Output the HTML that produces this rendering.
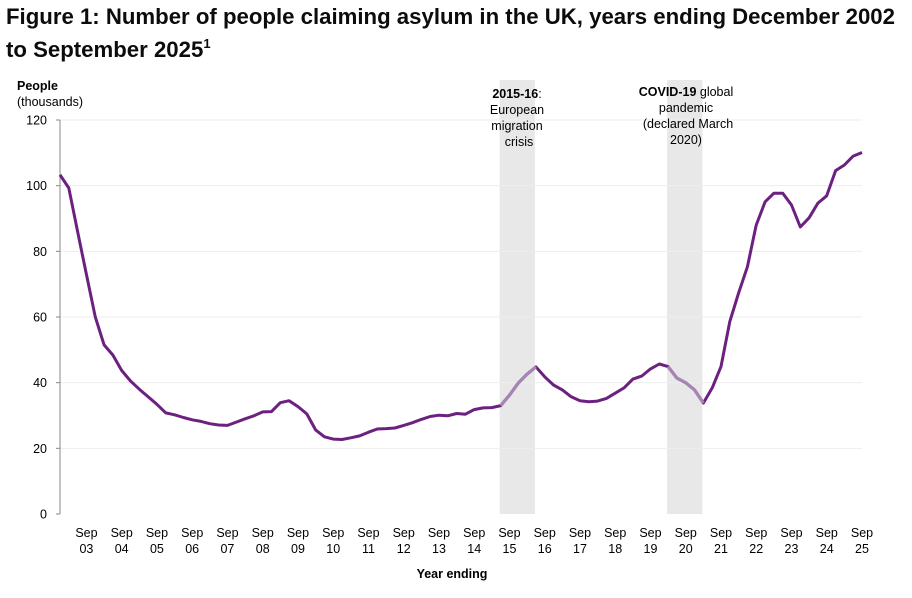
<!DOCTYPE html>
<html><head><meta charset="utf-8"><style>
body{margin:0;width:912px;height:598px;background:#fff;font-family:"Liberation Sans",sans-serif;overflow:hidden}
svg{position:absolute;left:0;top:0}
</style></head><body>
<svg width="912" height="598">
<text x="6" y="24" font-size="22.2" font-weight="bold" fill="#0b0c0c">Figure 1: Number of people claiming asylum in the UK, years ending December 2002</text>
<text x="6" y="57" font-size="22.2" font-weight="bold" fill="#0b0c0c">to September 2025<tspan font-size="13" dy="-9">1</tspan></text>
<text x="17" y="90" font-size="12.5" font-weight="bold" fill="#000">People</text>
<text x="17" y="106" font-size="12.5" fill="#000">(thousands)</text>
<g id="bands"></g><g id="grid"></g><g id="axes"></g><g id="line"></g>
<text x="452" y="578" font-size="12.5" font-weight="bold" text-anchor="middle" fill="#000">Year ending</text>
<g font-size="12.5" text-anchor="middle" fill="#000">
<text x="517" y="98"><tspan font-weight="bold">2015-16</tspan>:</text>
<text x="517" y="114">European</text><text x="517" y="130">migration</text><text x="519" y="146">crisis</text></g>
<g font-size="12.5" text-anchor="middle" fill="#000">
<text x="686" y="96"><tspan font-weight="bold">COVID-19</tspan> global</text>
<text x="686" y="112">pandemic</text><text x="688" y="128">(declared March</text><text x="686" y="144">2020)</text></g>
</svg>
<script>
const values=[103.3,99.3,86,73,60,51.5,48.4,43.7,40.5,38,35.7,33.4,30.8,30.2,29.4,28.7,28.2,27.5,27.1,27,28,29,29.9,31.1,31.2,33.9,34.5,32.7,30.5,25.6,23.5,22.8,22.7,23.2,23.8,24.9,25.9,26,26.2,27,27.8,28.8,29.7,30.1,29.9,30.6,30.4,31.8,32.3,32.4,33,36.2,39.9,42.6,44.8,41.8,39.3,37.8,35.7,34.5,34.2,34.4,35.2,36.8,38.4,41.1,42,44.2,45.7,44.9,41.4,40,37.8,33.8,38.4,44.9,58.6,67.3,75.3,88,95.1,97.7,97.7,94.1,87.4,90.2,94.7,96.9,104.6,106.3,109,110.1];
const yTicks=[0,20,40,60,80,100,120];
const xLabelYears=["03","04","05","06","07","08","09","10","11","12","13","14","15","16","17","18","19","20","21","22","23","24","25"];
const bands=[[50,54],[69,73]];
const NS="http://www.w3.org/2000/svg";
const x0=60,x1=862,yTop=120,yBot=514;
const xs=i=>x0+i*(x1-x0)/(values.length-1);
const ys=v=>yBot-v/120*(yBot-yTop);
function mk(t,a,p){const e=document.createElementNS(NS,t);for(const k in a)e.setAttribute(k,a[k]);p.appendChild(e);return e;}
const gB=document.getElementById('bands'),gG=document.getElementById('grid'),gA=document.getElementById('axes'),gL=document.getElementById('line');
bands.forEach(b=>{const r=mk('rect',{x:xs(b[0])-1,y:yTop-40,width:xs(b[1])-xs(b[0]),height:yBot-yTop+40,fill:'#e8e8e8'},gB);

});
yTicks.forEach(t=>{const y=ys(t);
if(t>0){const l=mk('line',{x1:x0,x2:x1,y1:y,y2:y,stroke:'#eeeeee','stroke-width':1},gG);

}
mk('line',{x1:x0-4,x2:x0,y1:y,y2:y,stroke:'#888'},gA);
const tx=mk('text',{x:x0-13,y:y+4.5,'font-size':12.5,'text-anchor':'end',fill:'#000'},gA);tx.textContent=t;

});
mk('line',{x1:x0,x2:x0,y1:yTop,y2:yBot,stroke:'#888'},gA);
xLabelYears.forEach((yr,k)=>{const i=3+4*k,x=xs(i);
const t1=mk('text',{x:x,y:537,'font-size':12.5,'text-anchor':'middle',fill:'#000'},gA);t1.textContent='Sep';


const t2=mk('text',{x:x,y:553,'font-size':12.5,'text-anchor':'middle',fill:'#000'},gA);t2.textContent=yr;

});
const pts=values.map((v,i)=>xs(i).toFixed(1)+','+ys(v).toFixed(1));
const main=mk('polyline',{points:pts.join(' '),fill:'none',stroke:'#6c2080','stroke-width':3,'stroke-linejoin':'round'},gL);


bands.forEach(b=>{const s=mk('polyline',{points:pts.slice(b[0],b[1]+1).join(' '),fill:'none',stroke:'#a685b5','stroke-width':3.2,'stroke-linejoin':'round'},gL);

});
</script>
</body></html>
